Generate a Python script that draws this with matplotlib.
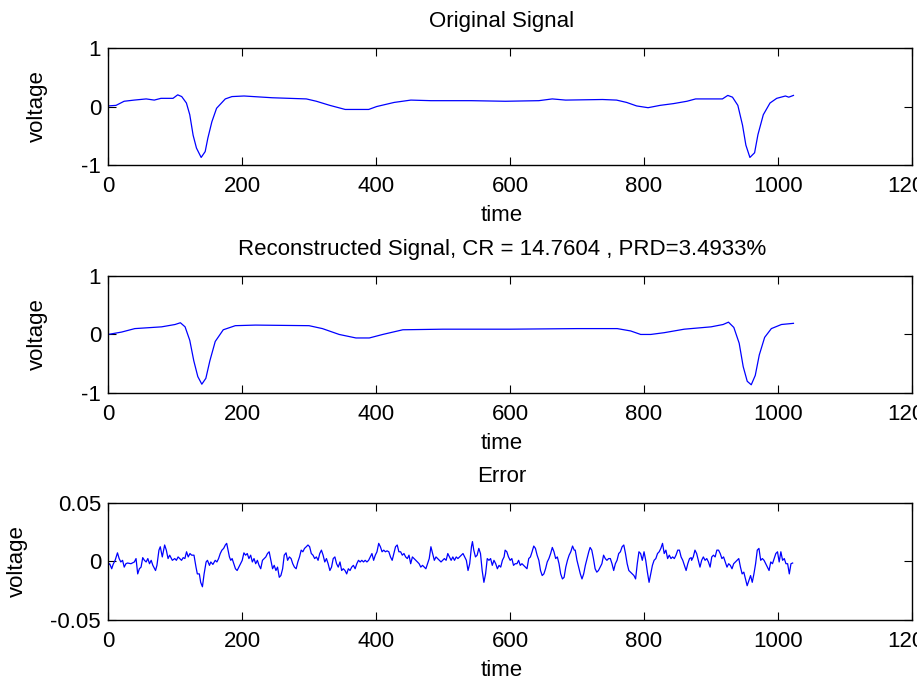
import numpy as np
import matplotlib
matplotlib.use("Agg")
import matplotlib.pyplot as plt

plt.rcParams['font.family'] = ['Liberation Sans', 'DejaVu Sans']
plt.rcParams['axes.unicode_minus'] = False

# original signal
orig_t = [0, 12, 24, 39, 57, 69, 79, 97, 104, 110, 117, 122, 127, 132, 139, 145, 149, 155, 162,
          175, 185, 203, 245, 296, 311, 331, 354, 389, 401, 427, 452, 482, 542, 593, 643, 663,
          683, 738, 759, 774, 789, 806, 824, 844, 864, 877, 917, 925, 932, 940, 947, 952, 958,
          965, 970, 978, 988, 998, 1011, 1016, 1023]
orig_v = [0.01, 0.02, 0.09, 0.11, 0.13, 0.11, 0.14, 0.14, 0.20, 0.17, 0.06, -0.14, -0.49, -0.71,
          -0.87, -0.77, -0.54, -0.26, -0.03, 0.13, 0.17, 0.18, 0.15, 0.13, 0.09, 0.02, -0.05,
          -0.05, 0.0, 0.07, 0.11, 0.10, 0.10, 0.09, 0.10, 0.13, 0.11, 0.12, 0.11, 0.07, 0.01,
          -0.02, 0.02, 0.05, 0.09, 0.13, 0.13, 0.19, 0.16, 0.02, -0.32, -0.66, -0.87, -0.79,
          -0.48, -0.14, 0.06, 0.14, 0.18, 0.16, 0.19]

# reconstructed signal (middle panel)
recon_t = [0, 20, 40, 80, 100, 108, 115, 122, 128, 134, 140, 146, 152, 160, 172, 190, 220, 300,
           320, 345, 370, 390, 410, 440, 500, 600, 700, 760, 780, 795, 810, 830, 860, 900, 918,
           926, 934, 942, 948, 954, 960, 966, 972, 980, 990, 1005, 1023]
recon_v = [0.0, 0.04, 0.10, 0.13, 0.17, 0.20, 0.13, -0.10, -0.45, -0.72, -0.85, -0.75, -0.45,
           -0.12, 0.08, 0.15, 0.16, 0.15, 0.10, 0.0, -0.06, -0.06, 0.0, 0.08, 0.09, 0.09, 0.10,
           0.10, 0.06, 0.0, 0.0, 0.03, 0.09, 0.13, 0.17, 0.21, 0.12, -0.15, -0.55, -0.80, -0.86,
           -0.70, -0.35, -0.05, 0.10, 0.17, 0.19]

# error (bottom panel), (time, value) pairs
err_points = [
    (0, -0.0033), (2.5, -0.0019), (5.5, -0.0062), (7.6, -0.0025), (10.6, 0.0010), (14.1, 0.0074),
    (16.6, 0.0025), (19.1, -0.0004), (21.7, 0.0010), (24.2, -0.0048), (26.7, -0.0019),
    (29.2, -0.0013), (34.2, -0.0019), (39.3, -0.0004), (41.8, 0.0025), (44.3, -0.0106),
    (46.8, -0.0062), (49.3, -0.0048), (51.8, 0.0033), (54.3, 0.0010), (56.9, -0.0004),
    (59.4, 0.0025), (61.9, -0.0019), (64.4, 0.0010), (66.9, -0.0033), (70.9, -0.0077),
    (73, -0.0033), (76, 0.0097), (78, 0.0126), (81, 0.0039), (84.5, 0.0141), (87, 0.0097),
    (89.6, 0.0025), (92, 0.0054), (96, 0.0010), (99.6, 0.0025), (102, 0.0010), (104.6, 0.0039),
    (109.7, 0.0010), (112.2, 0.0033), (114.7, 0.0025), (117.2, 0.0083), (119.7, 0.0039),
    (122.3, 0.0068), (124.8, 0.0054), (128.3, 0.0054), (131.3, -0.0048), (133.3, -0.0106),
    (136.3, -0.0106), (138.3, -0.0178), (140.9, -0.0216), (143.4, -0.0106), (146.4, -0.0004),
    (148.4, 0.0010), (151.4, -0.0033), (153.4, -0.0004), (156.5, -0.0025), (160, 0.0010),
    (162.5, -0.0004), (165, 0.0025), (167.5, 0.0068),
    (170, 0.0097), (172.6, 0.0112), (175.1, 0.0141), (177.1, 0.0155), (179.2, 0.0097),
    (181.2, 0.0039), (183.2, 0.0010), (185.2, 0.0025), (187.7, -0.0019), (190.2, -0.0062),
    (192.7, -0.0077), (195.3, -0.0048), (197.8, -0.0019), (200.3, 0.0010), (202.8, 0.0074),
    (205.3, 0.0054), (207.8, 0.0068), (210.3, 0.0025), (212.9, 0.0054), (215.4, -0.0004),
    (217.9, 0.0025), (220.4, -0.0019), (222.9, 0.0010), (225.4, -0.0033), (227.9, -0.0062),
    (230.5, 0.0010), (233, 0.0025), (235.5, 0.0039), (238, 0.0068), (240.5, 0.0083),
    (243, 0.0010), (245.6, -0.0062), (248, -0.0033), (250.6, -0.0077), (253, -0.0048),
    (255.6, -0.0135), (258, -0.0120), (260.6, -0.0062), (263, 0.0054), (265.7, 0.0074),
    (268, 0.0010), (270.7, 0.0039), (273.2, 0.0025), (275.7, -0.0019), (278.2, -0.0048),
    (280.8, -0.0062), (283.3, -0.0004), (285.8, 0.0039), (288.3, 0.0097), (290.8, 0.0083),
    (293.3, 0.0112), (295.9, 0.0126), (298.4, 0.0141), (300.9, 0.0126), (303.4, 0.0068),
    (305.9, 0.0054), (308.4, 0.0025), (311, 0.0039), (313.5, 0.0010), (316, 0.0068),
    (318.5, 0.0097), (321, 0.0054), (323.5, -0.0004), (326, 0.0025), (328.5, -0.0019),
    (331.1, -0.0077), (333.6, -0.0048), (336.1, 0.0025), (338.6, 0.0039), (341.1, -0.0019),
    (343.6, -0.0048), (346.2, -0.0004), (348.7, -0.0077),
    (351.1, -0.0062), (353.7, -0.0077), (356.2, -0.0106), (358.7, -0.0062), (361.2, -0.0077),
    (363.7, -0.0048), (366.2, -0.0033), (368.8, -0.0062), (371.3, -0.0019), (373.8, 0.0010),
    (376.3, -0.0004), (378.8, 0.0010), (381.3, -0.0004), (383.8, 0.0010), (386.4, -0.0004),
    (388.9, 0.0010), (391.4, 0.0039), (393.9, 0.0068), (396.4, 0.0010), (398.9, 0.0054),
    (401.4, 0.0083), (404, 0.0155), (406.5, 0.0126), (409, 0.0083), (411.5, 0.0097),
    (414, 0.0083), (416.5, 0.0091), (419.1, 0.0083), (421.6, 0.0039), (424.1, 0.0010),
    (426.6, 0.0068), (429.1, 0.0126), (431.6, 0.0141), (434.1, 0.0083), (436.7, 0.0083),
    (439.2, 0.0054), (441.7, 0.0068), (444.2, 0.0039), (446.7, 0.0025), (449.2, 0.0054),
    (451.7, -0.0019), (454.3, 0.0039), (456.8, 0.0025), (459.3, 0.0010), (461.8, -0.0004),
    (464.3, -0.0019), (466.8, -0.0048), (469.4, -0.0033), (471.9, -0.0048), (474.4, -0.0062),
    (476.9, -0.0019), (479.4, 0.0025), (481.9, 0.0126), (484.4, 0.0068), (487, 0.0010),
    (489.5, 0.0039), (492, 0.0025), (494.5, 0.0010), (497, -0.0004), (499.5, 0.0010),
    (502, 0.0025), (504.6, 0.0010), (507.1, 0.0068), (509.6, 0.0039), (512.1, 0.0010),
    (514.6, 0.0039), (517.1, 0.0010), (519.7, 0.0039), (522.2, 0.0025),
    (524.7, 0.0039), (527.3, 0.0054), (529.8, 0.0068), (532.3, 0.0039), (534.8, 0.0010),
    (537.3, -0.0077), (539.8, -0.0019), (542.4, 0.0126), (543.9, 0.0170), (545.9, 0.0097),
    (548.4, 0.0039), (550.9, 0.0054), (553.4, 0.0112), (555.9, 0.0068), (558.4, -0.0077),
    (561, -0.0178), (563.5, -0.0106), (566, 0.0025), (568.5, 0.0010), (571, 0.0025),
    (573.5, -0.0033), (576, 0.0010), (578.6, -0.0019), (581.1, -0.0062), (583.6, -0.0033),
    (586.1, -0.0048), (588.6, 0.0010), (591.1, 0.0039), (592.7, 0.0097), (595.2, 0.0083),
    (597.7, 0.0039), (600.2, 0.0010), (602.7, 0.0025), (605.2, -0.0033), (607.7, -0.0019),
    (610.3, -0.0019), (612.8, 0.0010), (615.3, -0.0033), (617.8, -0.0019), (620.3, -0.0033),
    (622.8, -0.0048), (625.3, -0.0062), (627.9, 0.0025), (630.4, 0.0039), (632.9, 0.0083),
    (635.4, 0.0132), (637.9, 0.0112), (640.4, 0.0054), (643, 0.0010), (645.5, -0.0077),
    (648, -0.0120), (650.5, -0.0106), (653, -0.0062), (655.5, -0.0004), (658, 0.0025),
    (660.6, 0.0068), (663.1, 0.0120), (665.6, 0.0083), (668.1, 0.0025), (670.6, 0.0039),
    (673.1, -0.0019), (675.6, -0.0106), (678.2, -0.0149), (680.7, -0.0135), (683.2, -0.0048),
    (685.7, 0.0010), (688.2, 0.0054), (690.7, 0.0083), (693.3, 0.0132), (695.8, 0.0097),
    (697.3, 0.0097), (699.9, 0.0010), (702.4, -0.0048), (704.9, -0.0106), (707.4, -0.0149),
    (709.9, -0.0106), (712.4, -0.0033), (715, 0.0025), (717.5, 0.0083), (719.5, 0.0120),
    (722, 0.0097), (724.5, 0.0025), (727, -0.0062), (729.5, -0.0091), (732, -0.0077),
    (734.6, -0.0048), (737.1, -0.0019), (739.6, 0.0054), (742.1, 0.0025), (744.6, 0.0010),
    (747.1, 0.0025), (749.7, 0.0025), (752.2, -0.0019), (754.7, -0.0077), (757.2, -0.0019),
    (759.7, 0.0010), (762.2, 0.0068), (764.7, 0.0083), (767.3, 0.0126), (769.8, 0.0141),
    (772.3, 0.0068), (774.8, -0.0019), (777.3, -0.0077), (779.8, -0.0091), (782.3, -0.0106),
    (784.9, -0.0120), (787.4, -0.0149), (789.9, -0.0019), (792.4, 0.0083), (794.9, 0.0068),
    (797.4, 0.0010), (800, 0.0083), (802.5, 0.0010), (805, -0.0091), (807.5, -0.0178),
    (810, -0.0106), (812.5, -0.0033), (815, 0.0010), (817.6, 0.0025), (820.1, 0.0068),
    (822.6, 0.0083), (825.1, 0.0112), (827.6, 0.0155), (830.1, 0.0068), (832.6, 0.0097),
    (835.2, 0.0025), (837.7, 0.0054), (840.2, 0.0025), (842.7, 0.0039), (845.2, 0.0025),
    (847.7, 0.0054), (850.3, 0.0097), (852.8, 0.0097), (855.3, 0.0039), (857.8, 0.0010),
    (860.3, -0.0033), (862.8, -0.0077), (865.3, -0.0019), (867.9, 0.0025), (870.4, 0.0033),
    (871, 0.0010), (873.5, 0.0039), (876, 0.0097), (878.5, 0.0068), (881, 0.0010),
    (883.5, -0.0048), (886, 0.0010), (888.5, 0.0039), (891.1, 0.0010), (893.6, 0.0025),
    (896.1, -0.0004), (898.6, -0.0048), (901.1, 0.0039), (903.6, 0.0054), (906.1, 0.0039),
    (908.7, 0.0097), (911.2, 0.0097), (913.7, 0.0068), (916.2, 0.0025), (918.7, 0.0039),
    (921.2, -0.0004), (923.8, -0.0048), (926.3, -0.0019), (928.8, -0.0033), (931.3, -0.0062),
    (933.8, -0.0019), (936.3, -0.0004), (938.8, 0.0010), (941.4, 0.0025), (943.9, -0.0048),
    (946.4, -0.0106), (948.9, -0.0091), (951.4, -0.0149), (953.9, -0.0207), (956.4, -0.0164),
    (959, -0.0120), (961.5, -0.0178), (964, -0.0106), (966.5, -0.0019), (969, 0.0097),
    (971.5, 0.0112), (974.1, 0.0010), (976.6, 0.0025), (979.1, 0.0010), (981.6, -0.0019),
    (984.1, -0.0048), (986.6, -0.0077), (989.1, -0.0004), (991.7, -0.0019), (994.2, 0.0025),
    (996.7, 0.0068), (999.2, 0.0083), (1001.7, -0.0004), (1004.2, 0.0083), (1006.8, 0.0010),
    (1009.3, 0.0025), (1011.8, -0.0019), (1014.3, -0.0019), (1016.8, -0.0106), (1019.3, -0.0019),
    (1021.8, -0.0013),
]
err_t = np.array([p[0] for p in err_points])
err_v = np.array([p[1] for p in err_points])

xticks = [0, 200, 400, 600, 800, 1000, 1200]
titles = ['Original Signal', 'Reconstructed Signal, CR = 14.7604 , PRD=3.4933%', 'Error']

fig = plt.figure(figsize=(9.17, 6.82), dpi=100)
bottoms = [0.758, 0.4238, 0.0909]
ypads = [24, 24, 16]
fs = 16

panels = [(orig_t, orig_v, [-1, 0, 1], ['-1', '0', '1']),
          (recon_t, recon_v, [-1, 0, 1], ['-1', '0', '1']),
          (err_t, err_v, [-0.05, 0, 0.05], ['-0.05', '0', '0.05'])]

for i, (t, v, yt, ytl) in enumerate(panels):
    ax = fig.add_axes([0.1178, bottoms[i], 0.8768, 0.1716])
    ax.plot(t, v, color='blue', lw=0.9)
    ax.set_xlim(0, 1200)
    ax.set_ylim(yt[0], yt[-1])
    ax.set_xticks(xticks)
    ax.set_xticklabels([str(x) for x in xticks])
    ax.set_yticks(yt)
    ax.set_yticklabels(ytl)
    ax.tick_params(direction='in', length=6, width=0.8, top=True, right=True,
                   labelsize=fs, pad=8)
    ax.tick_params(axis='y', pad=5)
    for s in ax.spines.values():
        s.set_linewidth(1.0)
    ax.set_title(titles[i], fontsize=fs, pad=15, x=0.49)
    ax.set_xlabel('time', fontsize=fs, labelpad=6)
    ax.xaxis.label.set_x(0.49)
    ax.set_ylabel('voltage', fontsize=fs, labelpad=ypads[i])

fig.savefig('out.png', dpi=100)
